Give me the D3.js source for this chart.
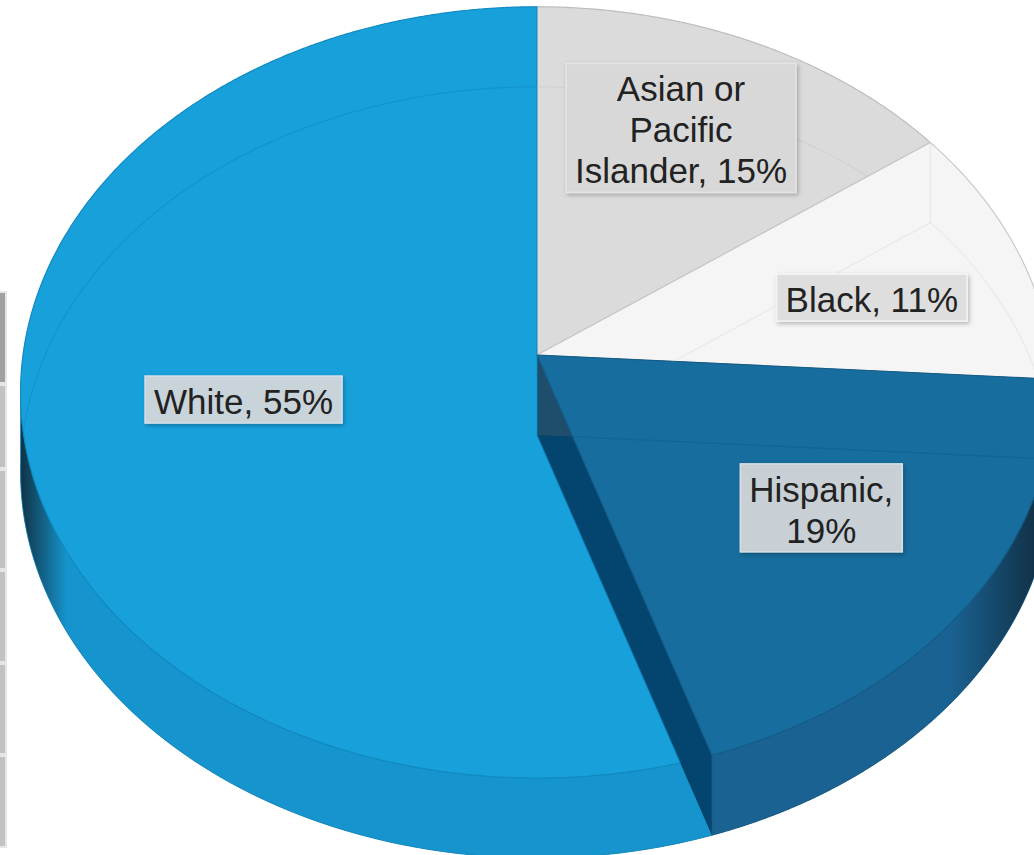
<!DOCTYPE html>
<html>
<head>
<meta charset="utf-8">
<script src="https://cdn.jsdelivr.net/npm/d3@7"></script>
<style>
  body { margin: 0; background: #fff; overflow: hidden; }
  svg { display: block; }
</style>
</head>
<body>
<div id="chart"></div>
<script>
// data
const categories = ["Asian or Pacific Islander", "Black", "Hispanic", "White"];
const values = [15, 11, 19, 55];

// styles
const topColors = ["#dbdbdb", "#f5f5f5", "#176d9e", "#18a0db"];
const sideColors = ["#c4c4c4", "#dedede", "#1a6292", "#1694ce"];
const edgeColors = ["#bdbdbd", "#c9c9c9", "#145d88", "#118ac2"];
const ghostColors = ["#cacaca", "#e0e0e0", "#0f5f8e", "#0e8ac4"];
const labelFill = ["#d8d8d8", "#dedede", "#c8d0d6", "#c9d3da"];
const labelStroke = ["#e4e4e4", "#f4f4f4", "#d8e0e5", "#d8e1e7"];
// label placement: radius fraction and vertical nudge
const labelLayout = { "Asian or Pacific Islander": [0.652, -17], "Black": [0.691, 15], "Hispanic": [0.672, -11], "White": [0.573, 10] };

const width = 1034, height = 855;
// 3d projection of the pie disc
const cx = 537, cy = 355, rx = 514, ry = 382, persp = 0.097, depth = 80;
const fontSize = 35, lineH = 41, padX = 9, padY = 3, wrapW = 219;

function proj(a, r, z) {
  const X = r * Math.sin(a), Y = -r * Math.cos(a);
  const k = 1 / (1 - persp * Y);
  return [cx + rx * X * k, cy + ry * Y * k + z];
}
function arcPts(a0, a1, z) {
  const n = Math.max(2, Math.ceil((a1 - a0) / (Math.PI / 720)));
  return d3.range(n + 1).map(i => proj(a0 + (a1 - a0) * i / n, 1, z));
}
const closed = d3.line().curve(d3.curveLinearClosed);
const open = d3.line();

const svg = d3.select("#chart").append("svg")
  .attr("width", width)
  .attr("height", height)
  .attr("viewBox", [0, 0, width, height]);

const defs = svg.append("defs");
const shadow = defs.append("filter").attr("id", "shadow")
  .attr("x", "-10%").attr("y", "-20%").attr("width", "130%").attr("height", "150%");
shadow.append("feDropShadow").attr("dx", 1.5).attr("dy", 2).attr("stdDeviation", 2)
  .attr("flood-color", "#000").attr("flood-opacity", 0.25);

// table edge peeking in on the left
const stripRows = [291, 384, 469, 570, 663, 755, 848];
svg.append("g").selectAll("rect")
  .data(d3.pairs(stripRows))
  .join("rect")
  .attr("x", -2).attr("y", d => d[0] + 1)
  .attr("width", 8).attr("height", d => d[1] - d[0] - 2)
  .attr("fill", (d, i) => i === 0 ? "#a0a0a0" : "#c2c2c2")
  .attr("stroke", "#e6e6e6").attr("stroke-width", 2);

const arcs = d3.pie().sort(null).value(d => d)(values);

// visible part of the outer rim
const sample = d3.range(0, 3600).map(i => i * Math.PI / 1800);
const aRight = d3.greatest(sample, a => proj(a, 1, 0)[0]);
const aLeft = d3.least(sample, a => proj(a, 1, 0)[0]);
const xL = proj(aLeft, 1, 0)[0], xR = proj(aRight, 1, 0)[0];

const topPath = d => closed([proj(0, 0, 0), ...arcPts(d.startAngle, d.endAngle, 0)]);

arcs.forEach((d, i) => {
  const g = defs.append("linearGradient").attr("id", "side" + i)
    .attr("gradientUnits", "userSpaceOnUse")
    .attr("x1", xL).attr("x2", xR).attr("y1", 0).attr("y2", 0);
  const dark = d3.interpolateRgb(sideColors[i], "#0e1a22")(0.8);
  [[0, dark], [0.045, sideColors[i]], [0.9, sideColors[i]], [1, dark]].forEach(s =>
    g.append("stop").attr("offset", s[0]).attr("stop-color", s[1]));
  defs.append("clipPath").attr("id", "clip" + i)
    .append("path").attr("d", topPath(d));
});

const pie = svg.append("g");
const order = [0, 1, 3, 2];

order.forEach(i => {
  const d = arcs[i];
  const a0 = d.startAngle, a1 = d.endAngle;
  const g = pie.append("g").attr("class", "slice");
  const wallFill = i === 2 ? "#1e4e6c" : d3.color(sideColors[i]).darker(0.6);
  const bottomFill = i === 2 ? "#03456e" : d3.color(sideColors[i]).darker(0.8);

  [a0, a1].forEach(a => {
    g.append("path")
      .attr("d", closed([proj(a, 0, 0), proj(a, 1, 0), proj(a, 1, depth), proj(a, 0, depth)]))
      .attr("fill", wallFill);
  });

  g.append("path")
    .attr("d", closed([proj(0, 0, depth), ...arcPts(a0, a1, depth)]))
    .attr("fill", bottomFill);

  const s0 = Math.max(a0, aRight), s1 = Math.min(a1, aLeft);
  if (s1 > s0) {
    g.append("path")
      .attr("d", closed([...arcPts(s0, s1, 0), ...arcPts(s0, s1, depth).reverse()]))
      .attr("fill", `url(#side${i})`)
      .attr("stroke", d3.color(sideColors[i]).darker(0.3))
      .attr("stroke-width", 0.8);
  }

  g.append("path")
    .attr("d", topPath(d))
    .attr("fill", topColors[i])
    .attr("stroke", edgeColors[i])
    .attr("stroke-width", 1.2)
    .attr("stroke-linejoin", "round");
});

// hidden edges showing faintly through each top face
arcs.forEach((d, i) => {
  const a0 = d.startAngle, a1 = d.endAngle;
  const ghost = svg.append("g")
    .attr("clip-path", `url(#clip${i})`)
    .attr("fill", "none")
    .attr("stroke", ghostColors[i])
    .attr("stroke-opacity", 0.55)
    .attr("stroke-width", 1.3);
  ghost.append("path")
    .attr("d", closed([proj(0, 0, depth), ...arcPts(a0, a1, depth)]));
  [a0, a1].forEach(a => {
    ghost.append("path")
      .attr("d", open([proj(a, 1, 0), proj(a, 1, depth)]));
  });
});

// data labels
const labels = svg.append("g")
  .attr("font-family", "'Liberation Sans', Arial, sans-serif")
  .attr("font-size", fontSize)
  .attr("fill", "#222");

const meter = labels.append("text").attr("visibility", "hidden");
function measure(s) { meter.text(s); return meter.node().getComputedTextLength(); }
function wrap(str) {
  const words = str.split(" ");
  const lines = [];
  let cur = words[0];
  words.slice(1).forEach(w => {
    if (measure(cur + " " + w) <= wrapW) cur += " " + w;
    else { lines.push(cur); cur = w; }
  });
  lines.push(cur);
  return lines;
}

arcs.forEach((d, i) => {
  const name = categories[i];
  const lines = wrap(name + ", " + values[i] + "%");
  const mid = (d.startAngle + d.endAngle) / 2;
  const [r, dy] = labelLayout[name];
  const p = proj(mid, r, 0);
  const w = d3.max(lines, measure) + padX * 2;
  const h = lines.length * lineH + padY * 2;
  const g = labels.append("g").attr("transform", `translate(${p[0]},${p[1] + dy})`);
  g.append("rect")
    .attr("x", -w / 2).attr("y", -h / 2)
    .attr("width", w).attr("height", h)
    .attr("fill", labelFill[i])
    .attr("stroke", labelStroke[i]).attr("stroke-width", 1.5)
    .attr("filter", "url(#shadow)");
  g.selectAll("text.l")
    .data(lines)
    .join("text")
    .attr("class", "l")
    .attr("text-anchor", "middle")
    .attr("x", 0)
    .attr("y", (t, k) => -h / 2 + padY + k * lineH + lineH / 2 + fontSize * 0.41)
    .text(t => t);
});
meter.remove();
</script>
</body>
</html>
